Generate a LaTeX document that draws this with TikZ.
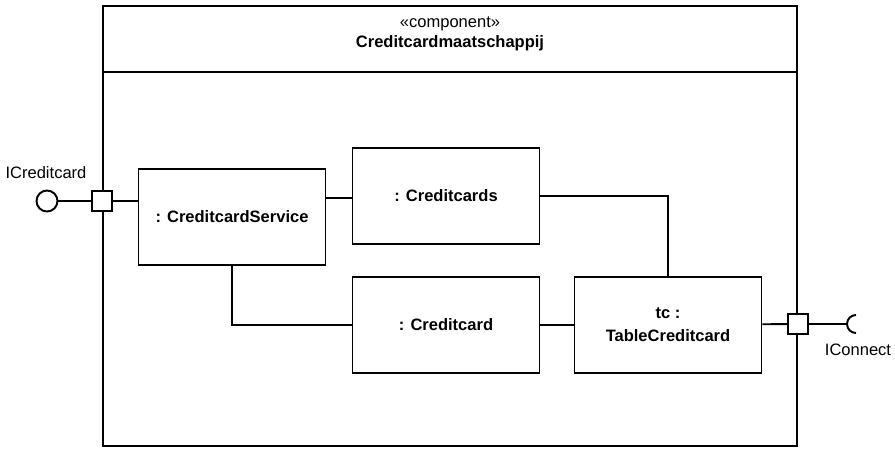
\documentclass[tikz,border=0pt]{standalone}
\usepackage{fontspec}
\setmainfont{Liberation Sans}
\usetikzlibrary{positioning,calc}

\begin{document}
\begin{tikzpicture}[x=0.02cm,y=-0.02cm,line width=1.1pt,
  part/.style={draw,fill=white,minimum width=3.74cm,minimum height=1.92cm,align=center,
    font=\fontsize{9.4}{13}\selectfont\bfseries},
  port/.style={draw,fill=white,minimum size=0.4cm,inner sep=0pt},
  lbl/.style={font=\fontsize{9.4}{11}\selectfont,inner sep=0pt}]
\useasboundingbox (0,0) rectangle (895,450);
% component frame
\node [draw,minimum width=13.88cm,minimum height=8.8cm,inner sep=0pt] (comp) at (450,226) {};
\draw (comp.west |- 0,72) -- (comp.east |- 0,72);
\node [lbl,align=center,font=\fontsize{9.4}{11.5}\selectfont] (title) at (450,34) {«component»\\\textbf{Creditcardmaatschappij}};
% parts
\node [part] (svc) at (232,217) {: CreditcardService};
\node [part] (cards) at (446,196) {: Creditcards};
\node [part] (card) at (446,325) {: Creditcard};
\node [part] (table) at (668,325) {tc :\\TableCreditcard};
% ports and interfaces
\node [port] (pL) at (comp.west |- 0,201) {};
\node [port] (pR) at (comp.east |- 0,324) {};
\node [draw,circle,minimum size=0.42cm,inner sep=0pt] (ball) at (47,201) {};
\node [lbl] (ballname) at (46,173) {ICreditcard};
\coordinate (sock) at (847,324);
\node [lbl] (sockname) at (858,350) {IConnect};
% connectors
\draw (ball) -- (pL);
\draw (pL) -- (svc.west |- pL);
\draw (svc.east |- 0,198) -- (cards.west |- 0,198);
\draw (svc.south) |- (card.west);
\draw (card) -- (table);
\draw (cards.east) -| (table.north);
\draw (table) -- (pR);
\draw (pR) -- (sock);
\draw ([shift={(9,-9)}]sock) arc[start angle=270,end angle=90,radius=9];
\end{tikzpicture}
\end{document}
